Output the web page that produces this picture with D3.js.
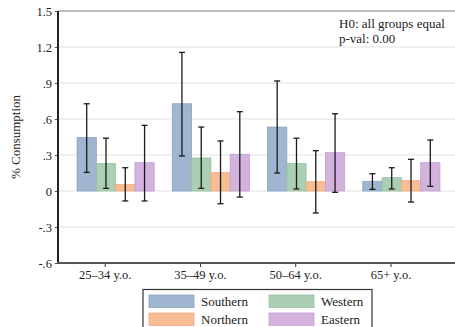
<!DOCTYPE html>
<html>
<head>
<meta charset="utf-8">
<script src="https://cdn.jsdelivr.net/npm/d3@7"></script>
<style>
  body { margin: 0; background: #fff; }
  svg { display: block; font-family: "Liberation Serif", "DejaVu Serif", serif; }
</style>
</head>
<body>
<div id="chart"></div>
<script>
// --- Data ---
const groups = ["25–34 y.o.", "35–49 y.o.", "50–64 y.o.", "65+ y.o."];
const regions = ["Southern", "Western", "Northern", "Eastern"];
const yTicks = [-0.6, -0.3, 0, 0.3, 0.6, 0.9, 1.2, 1.5];
const yTickLabels = ["-.6", "-.3", "0", ".3", ".6", ".9", "1.2", "1.5"];

// mean, lower CI, upper CI per group
const southern = [[0.447, 0.155, 0.727], [0.727, 0.292, 1.155], [0.533, 0.150, 0.917], [0.081, 0.014, 0.144]];
const western  = [[0.228, 0.022, 0.440], [0.275, 0.022, 0.533], [0.228, 0.017, 0.440], [0.111, 0.017, 0.194]];
const northern = [[0.053, -0.083, 0.194], [0.153, -0.106, 0.417], [0.078, -0.183, 0.336], [0.086, -0.092, 0.264]];
const eastern  = [[0.236, -0.083, 0.547], [0.306, -0.050, 0.661], [0.319, -0.011, 0.644], [0.236, 0.039, 0.425]];

const seriesByRegion = { Southern: southern, Western: western, Northern: northern, Eastern: eastern };
const colors = { Southern: "#9fb5d0", Western: "#abcfb3", Northern: "#f7bd95", Eastern: "#d3b3de" };
const strokes = { Southern: "#8aa3c3", Western: "#97c0a0", Northern: "#efaa7e", Eastern: "#c29fd0" };

// --- Dimensions ---
const W = 455, H = 327;
const plot = { left: 58, right: 455, top: 11, bottom: 263 };
const fontFam = '"Liberation Serif", "DejaVu Serif", serif';

const svg = d3.select("#chart").append("svg")
  .attr("width", W)
  .attr("height", H);

// --- Scales ---
const y = d3.scaleLinear().domain([-0.6, 1.5]).range([plot.bottom, plot.top]);

const x = d3.scaleBand()
  .domain(groups)
  .range([58, 459])
  .paddingInner(0.19)
  .paddingOuter(0.2);

const xSub = d3.scaleBand()
  .domain(regions)
  .range([0, x.bandwidth()]);

// --- Gridlines ---
svg.append("g")
  .selectAll("line")
  .data(yTicks.filter(d => d < 1.5))
  .join("line")
  .attr("x1", plot.left)
  .attr("x2", plot.right)
  .attr("y1", d => y(d))
  .attr("y2", d => y(d))
  .attr("stroke", "#ebebeb")
  .attr("stroke-width", 1.3);

// top border of plot region
svg.append("line")
  .attr("x1", plot.left).attr("x2", plot.right)
  .attr("y1", y(1.5)).attr("y2", y(1.5))
  .attr("stroke", "#a8a8a8")
  .attr("stroke-width", 1.6);

// --- Bars ---
const rows = [];
groups.forEach((g, i) => {
  regions.forEach(r => {
    const v = seriesByRegion[r][i];
    rows.push({ group: g, region: r, mean: v[0], lo: v[1], hi: v[2] });
  });
});

svg.append("g")
  .selectAll("rect")
  .data(rows)
  .join("rect")
  .attr("x", d => x(d.group) + xSub(d.region))
  .attr("y", d => y(Math.max(0, d.mean)))
  .attr("width", xSub.bandwidth())
  .attr("height", d => Math.abs(y(d.mean) - y(0)))
  .attr("fill", d => colors[d.region])
  .attr("stroke", d => strokes[d.region])
  .attr("stroke-width", 0.8);

// --- Error bars ---
const cap = 3;
const err = svg.append("g")
  .selectAll("g")
  .data(rows)
  .join("g")
  .attr("transform", d => `translate(${x(d.group) + xSub(d.region) + xSub.bandwidth() / 2},0)`);

err.append("line")
  .attr("y1", d => y(d.lo))
  .attr("y2", d => y(d.hi))
  .attr("stroke", "#1a1a1a")
  .attr("stroke-width", 1.3);

err.append("line")
  .attr("x1", -cap).attr("x2", cap)
  .attr("y1", d => y(d.hi)).attr("y2", d => y(d.hi))
  .attr("stroke", "#1a1a1a")
  .attr("stroke-width", 1.3);

err.append("line")
  .attr("x1", -cap).attr("x2", cap)
  .attr("y1", d => y(d.lo)).attr("y2", d => y(d.lo))
  .attr("stroke", "#1a1a1a")
  .attr("stroke-width", 1.3);

// --- Y axis ---
const yAxis = svg.append("g")
  .attr("transform", `translate(${plot.left},0)`)
  .call(d3.axisLeft(y)
    .tickValues(yTicks)
    .tickFormat((d, i) => yTickLabels[i])
    .tickSize(3)
    .tickPadding(3))
  .attr("font-family", fontFam);
yAxis.select(".domain").attr("stroke", "#222").attr("stroke-width", 2)
  .attr("d", `M0,${plot.top}V${plot.bottom}`);
yAxis.selectAll(".tick line").attr("stroke", "#444");
yAxis.selectAll("text")
  .style("font-size", "12.5px")
  .attr("fill", "#222");

// --- X axis ---
const tickOffset = x.bandwidth() * 0.365;
const xAxis = svg.append("g")
  .attr("transform", `translate(${tickOffset - x.bandwidth() / 2},${plot.bottom})`)
  .call(d3.axisBottom(x).tickSize(4).tickPadding(3))
  .attr("font-family", fontFam);
xAxis.select(".domain").remove();
xAxis.selectAll(".tick line").attr("stroke", "#333");
xAxis.selectAll("text")
  .style("font-size", "12.5px")
  .attr("fill", "#222");

svg.append("line")
  .attr("x1", plot.left - 1).attr("x2", plot.right)
  .attr("y1", plot.bottom).attr("y2", plot.bottom)
  .attr("stroke", "#555")
  .attr("stroke-width", 2);

// --- Y axis title ---
svg.append("text")
  .attr("transform", "rotate(-90)")
  .attr("x", -(plot.top + plot.bottom) / 2)
  .attr("y", 20)
  .attr("text-anchor", "middle")
  .style("font-size", "13px")
  .attr("fill", "#222")
  .text("% Consumption");

// --- Annotation ---
svg.append("text")
  .attr("x", 339).attr("y", 28)
  .style("font-size", "13px")
  .attr("fill", "#222")
  .text("H0: all groups equal");
svg.append("text")
  .attr("x", 339).attr("y", 43)
  .style("font-size", "13px")
  .attr("fill", "#222")
  .text("p-val: 0.00");

// --- Legend ---
svg.append("rect")
  .attr("x", 143).attr("y", 289.5)
  .attr("width", 229).attr("height", 50)
  .attr("fill", "none")
  .attr("stroke", "#333")
  .attr("stroke-width", 1.2);

const legendPos = [
  { region: "Southern", x: 149, y: 295 },
  { region: "Western", x: 269, y: 295 },
  { region: "Northern", x: 149, y: 313 },
  { region: "Eastern", x: 269, y: 313 }
];

const legend = svg.selectAll(".legend")
  .data(legendPos)
  .join("g")
  .attr("class", "legend")
  .attr("transform", d => `translate(${d.x},${d.y})`);

legend.append("rect")
  .attr("width", 45)
  .attr("height", 12.5)
  .attr("fill", d => colors[d.region])
  .attr("stroke", d => strokes[d.region])
  .attr("stroke-width", 0.8);

legend.append("text")
  .attr("x", 52)
  .attr("y", 11)
  .style("font-size", "13px")
  .attr("fill", "#222")
  .text(d => d.region);
</script>
</body>
</html>
